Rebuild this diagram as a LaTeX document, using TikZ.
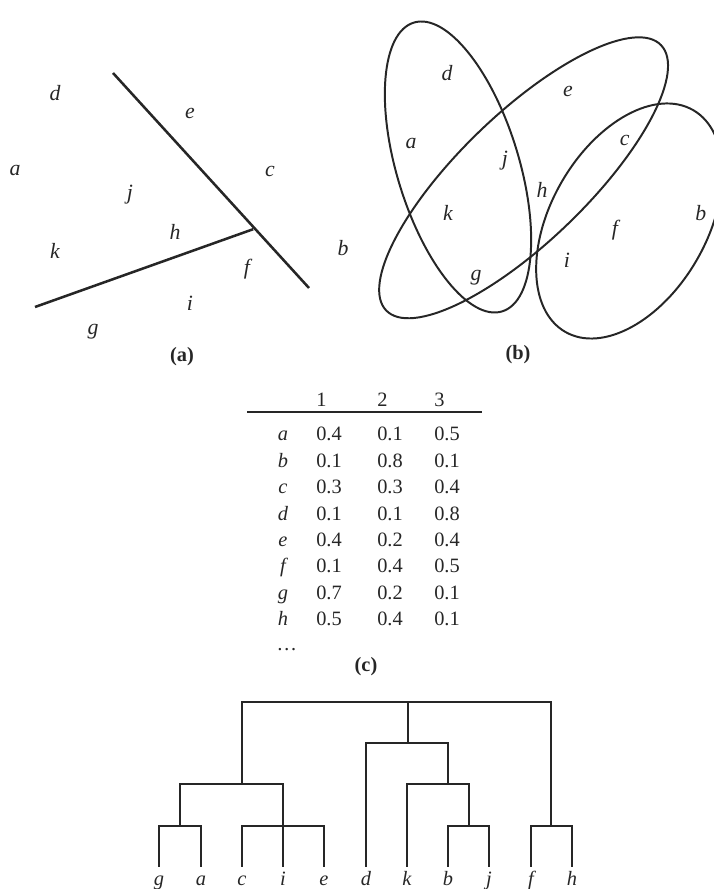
\documentclass[tikz,border=0pt]{standalone}
\usepackage{fontspec}
\setmainfont{Liberation Serif}
\usepackage{tikz}
\usetikzlibrary{shapes.geometric}
\tikzset{lbl/.style={font=\fontsize{15.5}{18}\selectfont\itshape,inner sep=1pt},
  tlbl/.style={font=\fontsize{14.5}{17}\selectfont\itshape,inner sep=1pt,anchor=base},
  num/.style={anchor=base west,inner sep=0pt},
  ttl/.style={font=\fontsize{14.5}{17}\selectfont\bfseries},
  blob/.style={draw,ellipse,line width=1.4pt,inner sep=0pt,outer sep=0pt},
  split/.style={line width=1.8pt},
  dendro/.style={line width=1.7pt}}

\begin{document}
\begin{tikzpicture}[font=\fontsize{14.5}{17}\selectfont,color=black!85]
\useasboundingbox (0,0) rectangle (17.825,22.225);
% (a) two cuts
\coordinate (p1) at (2.825,20.4); \coordinate (p2) at (7.725,15.025);
\coordinate (q1) at (0.875,14.55); \coordinate (q2) at (6.33,16.495);
\draw[split] (p1)--(p2); \draw[split] (q1)--(q2);
\node[lbl] (ad) at (1.375,19.9){d}; \node[lbl] (ae) at (4.75,19.4){e};
\node[lbl] (aa) at (0.375,17.975){a}; \node[lbl] (ac) at (6.75,17.95){c};
\node[lbl] (aj) at (3.25,17.35){j}; \node[lbl] (ah) at (4.375,16.425){h};
\node[lbl] (ak) at (1.375,15.95){k}; \node[lbl] (af) at (6.175,15.5){f};
\node[lbl] (ai) at (4.75,14.65){i}; \node[lbl] (ag) at (2.325,13.925){g};
\node[ttl] (capa) at (4.55,13.3){(a)};
% (b) overlapping sets
\node[blob,minimum width=7.55cm,minimum height=3.05cm,rotate=-73] (s1) at (11.45,18.05){};
\node[blob,minimum width=9.55cm,minimum height=3.2cm,rotate=44] (s2) at (13.09,17.78){};
\node[blob,minimum width=6.4cm,minimum height=3.9cm,rotate=60] (s3) at (15.73,16.7){};
\node[lbl] (bd) at (11.175,20.4){d}; \node[lbl] (be) at (14.2,19.95){e};
\node[lbl] (ba) at (10.275,18.65){a}; \node[lbl] (bc) at (15.62,18.72){c};
\node[lbl] (bj) at (12.62,18.2){j}; \node[lbl] (bh) at (13.55,17.475){h};
\node[lbl] (bk) at (11.2,16.9){k}; \node[lbl] (bb) at (17.52,16.9){b};
\node[lbl] (bf) at (15.375,16.475){f}; \node[lbl] (bbo) at (8.575,16.025){b};
\node[lbl] (bi) at (14.175,15.725){i}; \node[lbl] (bg) at (11.9,15.275){g};
\node[ttl] (capb) at (12.95,13.35){(b)};
% (c) membership table
\node[num] (h1) at (7.9,12.05){1}; \node[num] (h2) at (9.425,12.05){2}; \node[num] (h3) at (10.85,12.05){3};
\draw[line width=0.8pt] (6.175,11.925)--(12.05,11.925);
\foreach \r/\p/\q/\s [count=\k from 0] in {a/0.4/0.1/0.5,b/0.1/0.8/0.1,c/0.3/0.3/0.4,d/0.1/0.1/0.8,
  e/0.4/0.2/0.4,f/0.1/0.4/0.5,g/0.7/0.2/0.1,h/0.5/0.4/0.1}{
  \node[tlbl] (r\r) at (7.075,{11.2-0.66*\k}){\r};
  \node[num] (c1\r) at (7.9,{11.2-0.66*\k}){\p};
  \node[num] (c2\r) at (9.425,{11.2-0.66*\k}){\q};
  \node[num] (c3\r) at (10.85,{11.2-0.66*\k}){\s};
}
\node (dots) at (7.17,5.975){\dots};
\node[ttl] (capc) at (9.15,5.55){(c)};
% (d) dendrogram
\foreach \n/\x in {g/3.975,a/5.025,c/6.05,i/7.075,e/8.1,d/9.15,k/10.175,b/11.2,j/12.225,f/13.275,h/14.3}{
  \node[tlbl] (t\n) at (\x,0.075){\n};
  \coordinate (v\n) at (\x,0.55);
}
\coordinate (jga) at (4.5,1.575); \coordinate (jce) at (7.075,1.575);
\coordinate (jbj) at (11.725,1.575); \coordinate (jfh) at (13.775,1.575);
\coordinate (jl) at (6.05,2.625); \coordinate (jkbj) at (11.2,2.625);
\coordinate (jr) at (10.2,3.65); \coordinate (jtop) at (10.2,4.675);
\begin{scope}[dendro]
\draw (vg)|-(jga)-|(va); \draw (vc)|-(jce)-|(ve); \draw (jga)|-(jl)-|(vi);
\draw (vb)|-(jbj)-|(vj); \draw (vk)|-(jkbj)-|(jbj); \draw (vd)|-(jr)-|(jkbj);
\draw (vf)|-(jfh)-|(vh); \draw (jr)--(jtop); \draw (jl)|-(jtop)-|(jfh);
\end{scope}
\end{tikzpicture}
\end{document}
